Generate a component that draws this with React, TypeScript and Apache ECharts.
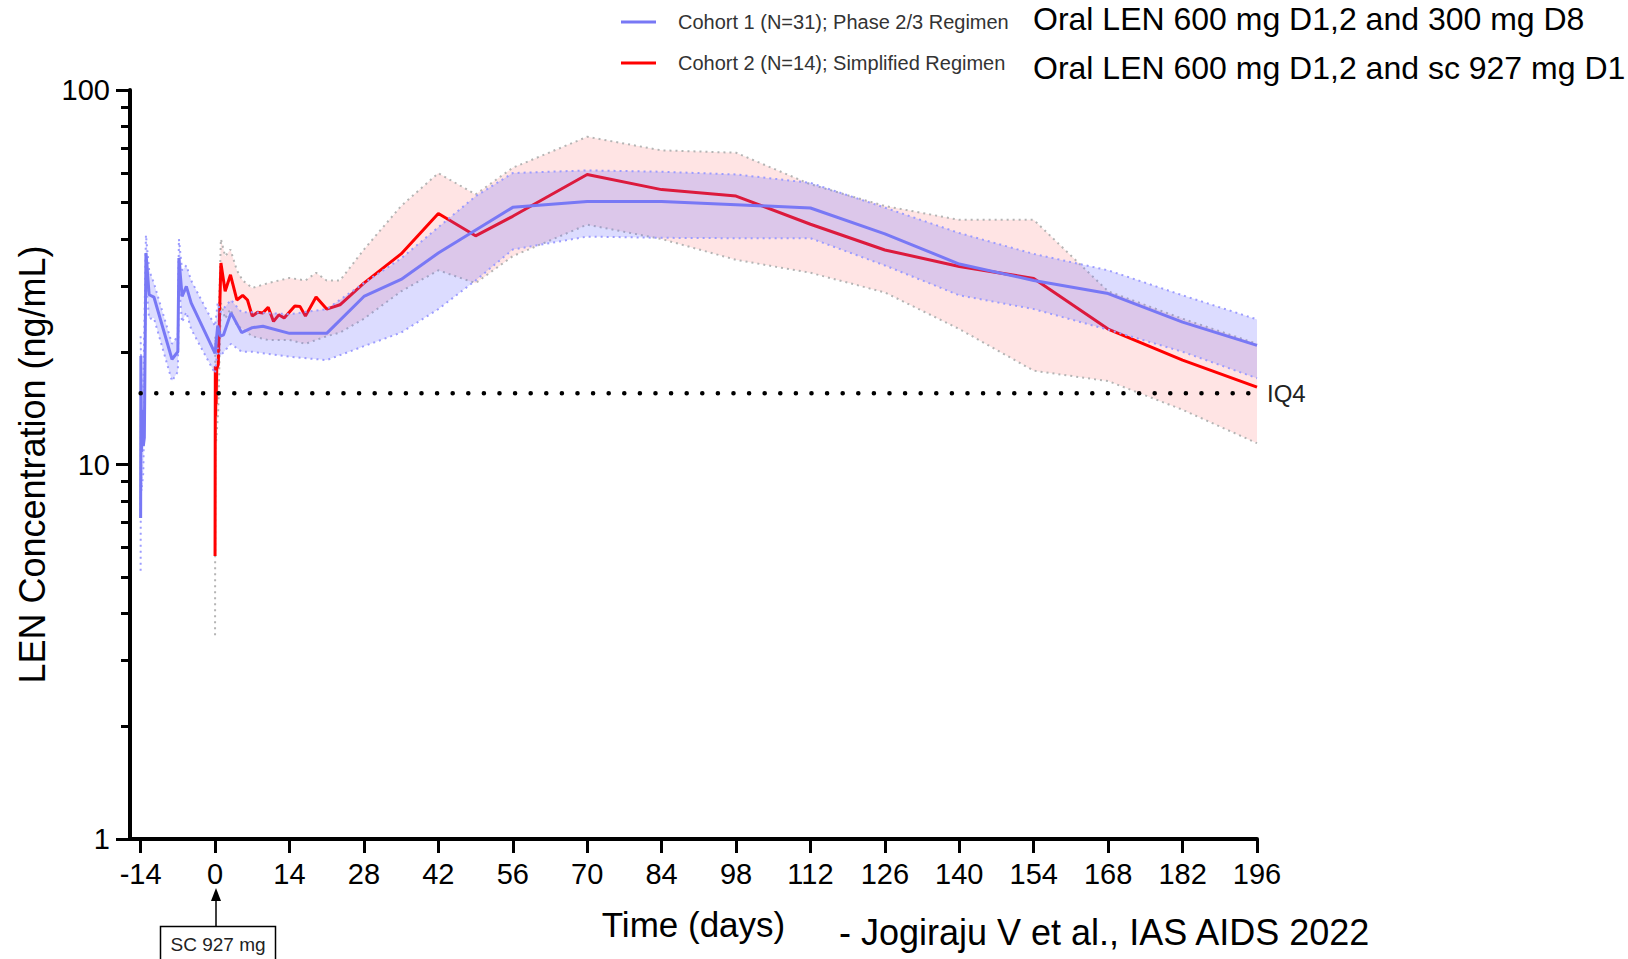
import React, { useEffect, useRef } from 'react';
import * as echarts from 'echarts';

// ---------- data ----------
const IQ4 = 15.5;
const xTickValues = [-14, 0, 14, 28, 42, 56, 70, 84, 98, 112, 126, 140, 154, 168, 182, 196];
const yMinorTickValues = [2, 3, 4, 5, 6, 7, 8, 9, 20, 30, 40, 50, 60, 70, 80, 90];

const c1Name = 'Cohort 1 (N=31); Phase 2/3 Regimen';
const c2Name = 'Cohort 2 (N=14); Simplified Regimen';

// Cohort 1 median
const c1Days = [-14, -13.95, -13.85, -13.7, -13.5, -13.3, -13.0, -12.4, -11.5, -8.1, -7.0, -6.8, -6.2, -5.4, -4.5, 0, 0.5, 1, 1.6, 3, 5, 7, 9, 14, 21, 28, 35, 42, 56, 70, 84, 98, 112, 126, 140, 154, 168, 182, 196];
const c1Median = [7.2, 19.5, 10.8, 14.0, 11.2, 11.8, 36.7, 28.4, 28.0, 19.1, 20.0, 35.6, 28.1, 29.9, 27.0, 19.8, 23.5, 22.0, 22.2, 25.4, 22.5, 23.2, 23.4, 22.4, 22.4, 28.1, 31.2, 36.7, 48.6, 50.4, 50.4, 49.4, 48.4, 41.3, 34.3, 31.0, 28.6, 24.0, 20.8];

// Cohort 1 variability band
const c1BandDays = [-14, -13.95, -13.85, -13.5, -13.0, -12.4, -11.5, -8.1, -7.0, -6.8, -6.2, -5.4, -4.5, 0, 0.5, 1, 3, 5, 7, 14, 21, 28, 35, 42, 49, 56, 70, 84, 98, 112, 126, 140, 154, 168, 182, 196];
const c1Upper = [22, 22, 16, 16, 41, 33, 30.5, 21, 22, 40, 33, 34, 31, 23.4, 27, 25.5, 27.5, 25.5, 25.5, 25.2, 26, 30.5, 35.5, 43, 52, 60, 61, 60.5, 59.5, 56.5, 48.5, 41.5, 36.5, 33, 28.3, 24.4];
const c1Lower = [5.2, 14, 8.5, 9.5, 31, 24.5, 24.6, 16.7, 17.7, 30.5, 24, 25.5, 23, 17.5, 20.5, 19.5, 21, 20, 20, 19.4, 19, 20.7, 22.5, 26, 31, 37.5, 40.6, 40.3, 40.2, 40.2, 34, 28.3, 26, 22.9, 20, 17.0];

// Cohort 2 median
const c2Days = [0, 0.05, 0.1, 0.15, 0.2, 0.3, 0.6, 1.1, 1.9, 2.9, 4.1, 5.2, 6.1, 7, 8, 9, 10, 11, 12, 13, 15, 16, 17, 19, 21, 23.5, 28, 35, 42, 49, 56, 70, 84, 98, 112, 126, 140, 154, 168, 182, 196];
const c2Median = [5.7, 18.3, 13.5, 17.5, 14.5, 18.0, 18.5, 34.5, 29.0, 32.1, 27.5, 28.3, 27.5, 24.9, 25.5, 25.4, 26.3, 24.1, 25.1, 24.6, 26.5, 26.4, 24.9, 28.0, 26.0, 26.7, 30.5, 36.5, 46.8, 40.8, 46.0, 59.5, 54.2, 52.1, 43.8, 37.4, 33.8, 31.4, 23.0, 19.0, 16.1];

// Cohort 2 variability band
const c2BandDays = [0, 0.05, 0.2, 0.6, 1.1, 1.9, 2.9, 4.1, 5.2, 7, 10, 14, 17, 19, 21, 23.5, 28, 35, 42, 49, 56, 70, 84, 98, 112, 126, 140, 154, 168, 182, 196];
const c2Upper = [8, 22, 20, 22, 40, 36, 37.5, 33, 31, 29.6, 30.5, 31.5, 31, 32.5, 31, 31, 37.5, 49, 60, 52.6, 62, 75, 69, 68, 56, 49, 45, 45, 29, 24.5, 21];
const c2Lower = [3.5, 13, 11.5, 14, 27, 24.5, 26, 23.5, 23, 22, 21.5, 21.5, 21, 21.5, 22, 22.5, 24.5, 29, 33, 30.5, 36, 43.7, 40, 35.2, 32.5, 28.8, 23, 17.8, 16.7, 14, 11.4];

// ---------- styles ----------
const NARROW = "'Liberation Sans Narrow', 'Arial Narrow', 'Liberation Sans', Arial, sans-serif";
const REGULAR = "'Liberation Sans', Arial, sans-serif";
const BLUE = '#7878f5';
const RED = '#ff0000';

const pairs = (xs: number[], ys: number[]) => xs.map((x, i) => [x, ys[i]]);

function bandFill(name: string, days: number[], upper: number[], lower: number[], fill: string, z: number) {
  return {
    type: 'custom',
    name,
    z,
    silent: true,
    data: pairs(days, upper),
    encode: { x: 0, y: 1 },
    renderItem: (params: any, api: any) => {
      if (params.dataIndex !== 0) return null;
      const pts: number[][] = [];
      for (let i = 0; i < days.length; i++) pts.push(api.coord([days[i], upper[i]]));
      for (let i = days.length - 1; i >= 0; i--) pts.push(api.coord([days[i], lower[i]]));
      return { type: 'polygon', shape: { points: pts }, style: { fill } };
    },
  };
}

function edgeLine(name: string, days: number[], vals: number[], color: string, z: number) {
  return {
    type: 'line',
    name,
    z,
    silent: true,
    symbol: 'none',
    data: pairs(days, vals),
    lineStyle: { color, width: 2, type: [2, 4] },
  };
}

export default function App() {
  const ref = useRef<HTMLDivElement>(null);
  useEffect(() => {
    const chart = echarts.init(ref.current!, null, { renderer: 'svg' });
    const option: any = {
      animation: false,
      backgroundColor: '#ffffff',
      grid: { left: 130, top: 90, right: 371, bottom: 120, containLabel: false },
      legend: {
        show: true,
        orient: 'vertical',
        left: 616,
        top: 7,
        icon: 'rect',
        itemWidth: 35,
        itemHeight: 3,
        itemGap: 21,
        selectedMode: false,
        data: [
          { name: c1Name, itemStyle: { color: BLUE } },
          { name: c2Name, itemStyle: { color: RED } },
        ],
        textStyle: { fontFamily: NARROW, fontSize: 20, color: '#333', lineHeight: 20, padding: [0, 0, 0, 17] },
      },
      xAxis: {
        type: 'value',
        min: -16,
        max: 196,
        axisLine: { show: true, onZero: false, lineStyle: { color: '#000', width: 4 } },
        axisTick: { show: true, customValues: xTickValues, length: 14, lineStyle: { color: '#000', width: 3 } },
        axisLabel: { customValues: xTickValues, fontFamily: NARROW, fontSize: 29, color: '#000', margin: 20 },
        splitLine: { show: false },
        name: 'Time (days)',
        nameLocation: 'middle',
        nameGap: 68,
        nameTextStyle: { fontFamily: REGULAR, fontSize: 35, color: '#000' },
      },
      yAxis: [
        {
          type: 'log',
          logBase: 10,
          min: 1,
          max: 100,
          axisLine: { show: true, onZero: false, lineStyle: { color: '#000', width: 4 } },
          axisTick: { show: true, length: 14, lineStyle: { color: '#000', width: 3 } },
          axisLabel: { fontFamily: NARROW, fontSize: 29, color: '#000', margin: 20 },
          splitLine: { show: false },
          name: 'LEN Concentration (ng/mL)',
          nameLocation: 'middle',
          nameGap: 75,
          nameTextStyle: { fontFamily: REGULAR, fontSize: 36, color: '#000' },
        },
        {
          type: 'value',
          min: 0,
          max: 2,
          position: 'left',
          axisLine: { show: false, onZero: false },
          axisTick: { show: true, length: 9, customValues: yMinorTickValues.map((v) => Math.log10(v)), lineStyle: { color: '#000', width: 3 } },
          axisLabel: { show: false },
          splitLine: { show: false },
        },
      ],
      series: [
        bandFill('c2band', c2BandDays, c2Upper, c2Lower, 'rgba(255,120,120,0.2)', 1),
        edgeLine('c2upper', c2BandDays, c2Upper, '#b4b4b4', 2),
        edgeLine('c2lower', c2BandDays, c2Lower, '#b4b4b4', 2),
        {
          type: 'line',
          name: c2Name,
          z: 3,
          symbol: 'none',
          data: pairs(c2Days, c2Median),
          itemStyle: { color: RED },
          lineStyle: { color: RED, width: 3 },
        },
        bandFill('c1band', c1BandDays, c1Upper, c1Lower, 'rgba(110,110,255,0.24)', 4),
        edgeLine('c1upper', c1BandDays, c1Upper, '#9c9cff', 5),
        edgeLine('c1lower', c1BandDays, c1Lower, '#9c9cff', 5),
        {
          type: 'line',
          name: c1Name,
          z: 6,
          symbol: 'none',
          data: pairs(c1Days, c1Median),
          itemStyle: { color: BLUE },
          lineStyle: { color: BLUE, width: 3 },
        },
        {
          type: 'line',
          name: 'IQ4',
          z: 10,
          silent: true,
          symbol: 'none',
          data: [[-14, IQ4], [196, IQ4]],
          lineStyle: { color: '#000', width: 4.5, type: [0.1, 15.5], cap: 'round' },
          endLabel: { show: true, formatter: 'IQ4', fontFamily: REGULAR, fontSize: 24, color: '#222', distance: 10 },
        },
      ],
      graphic: [
        { type: 'text', left: 1033, top: 3, style: { text: 'Oral LEN 600 mg D1,2 and 300 mg D8', fontFamily: REGULAR, fontSize: 32, fill: '#000' } },
        { type: 'text', left: 1033, top: 52, style: { text: 'Oral LEN 600 mg D1,2 and sc 927 mg D1', fontFamily: REGULAR, fontSize: 32, fill: '#000' } },
        { type: 'text', left: 839, top: 914, style: { text: '- Jogiraju V et al., IAS AIDS 2022', fontFamily: REGULAR, fontSize: 36, fill: '#000' } },
        { type: 'line', shape: { x1: 216, y1: 926, x2: 216, y2: 899 }, style: { stroke: '#000', lineWidth: 1.5 } },
        { type: 'polygon', shape: { points: [[216, 888], [211, 901], [221, 901]] }, style: { fill: '#000' } },
        { type: 'rect', shape: { x: 160.5, y: 926.5, width: 115, height: 50 }, style: { stroke: '#000', lineWidth: 1.5, fill: 'none' } },
        { type: 'text', x: 218, y: 944, style: { text: 'SC 927 mg', fontFamily: NARROW, fontSize: 19, fill: '#222', textAlign: 'center', textVerticalAlign: 'middle' } },
      ],
    };
    chart.setOption(option);
    return () => chart.dispose();
  }, []);
  return <div ref={ref} style={{ position: 'fixed', left: 0, top: 0, width: 1628, height: 959 }} />;
}
